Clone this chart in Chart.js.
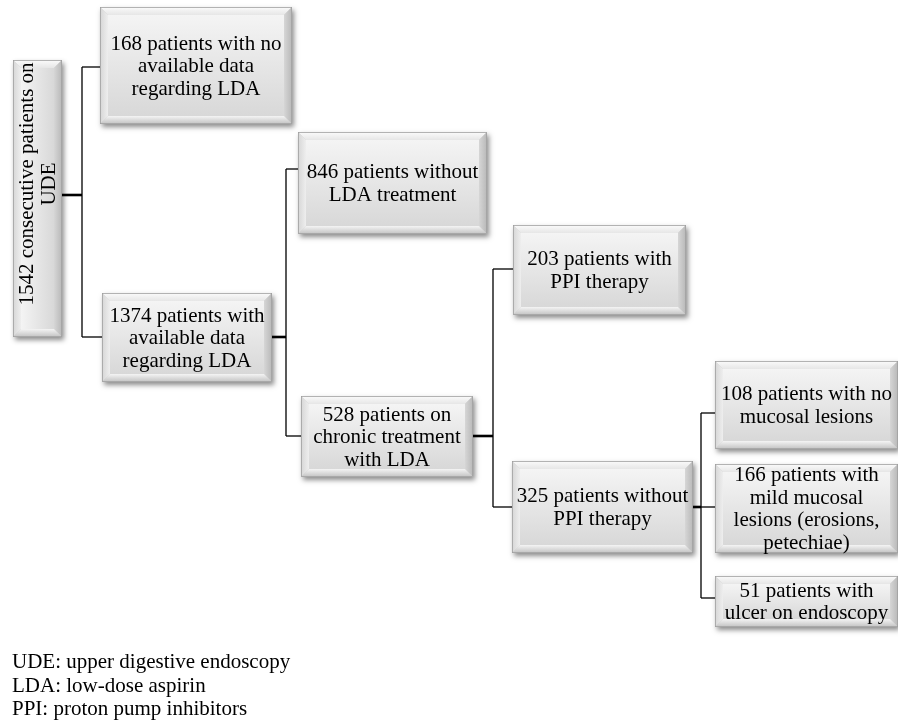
<!DOCTYPE html>
<html>
<head>
<meta charset="utf-8">
<script src="https://cdn.jsdelivr.net/npm/chart.js"></script>
<style>
  html, body { margin: 0; padding: 0; background: #fff; }
  #wrap { position: relative; width: 898px; height: 727px; }
</style>
</head>
<body>
<div id="wrap"><canvas id="flow"></canvas></div>
<script>
  // node texts (one entry per box, split in lines)
  const nodeText = [
    ['1542 consecutive patients on', 'UDE'],
    ['168 patients with no', 'available data', 'regarding LDA'],
    ['1374 patients with', 'available data', 'regarding LDA'],
    ['846 patients without', 'LDA treatment'],
    ['528 patients on', 'chronic treatment', 'with LDA'],
    ['203 patients with', 'PPI therapy'],
    ['325 patients without', 'PPI therapy'],
    ['108 patients with no', 'mucosal lesions'],
    ['166 patients with', 'mild mucosal', 'lesions (erosions,', 'petechiae)'],
    ['51 patients with', 'ulcer on endoscopy']
  ];
  // parent -> children links
  const linkParent = [0, 2, 4, 6];
  const linkChildren = [[1, 2], [3, 4], [5, 6], [7, 8, 9]];
  const footnotes = [
    'UDE: upper digestive endoscopy',
    'LDA: low-dose aspirin',
    'PPI: proton pump inhibitors'
  ];

  // layout in chart units (x 0..898, y 0..727 top-down)
  const nodeRect = [
    [13, 60, 62, 337], [100, 7, 292, 124], [102, 293, 272, 382], [298, 132, 487, 234],
    [301, 396, 473, 477], [513, 225, 686, 315], [512, 461, 693, 553],
    [715, 361, 898, 449], [715, 464, 898, 553], [715, 576, 898, 627]
  ];
  const nodeAnchorY = [195, 67, 337, 169, 436, 269, 507, 413, 507, 598];
  const linkElbowX = [82, 286, 493, 701];
  const rotatedNode = 0;

  const FONT = '"Liberation Serif", "Times New Roman", serif';

  function seg(x0, y0, x1, y1, w) {
    return { data: [{ x: x0, y: y0 }, { x: x1, y: y1 }], showLine: true, borderColor: '#000', borderWidth: w, pointRadius: 0, fill: false };
  }

  const datasets = [];
  linkParent.forEach((p, i) => {
    const ex = linkElbowX[i];
    const kids = linkChildren[i];
    const ys = kids.map(k => nodeAnchorY[k]);
    datasets.push(seg(nodeRect[p][2], nodeAnchorY[p], ex, nodeAnchorY[p], 2.6));
    datasets.push(seg(ex, Math.min(...ys), ex, Math.max(...ys), 1.3));
    kids.forEach(k => datasets.push(seg(ex, nodeAnchorY[k], nodeRect[k][0], nodeAnchorY[k], 1.3)));
  });

  function poly(ctx, pts, fill) {
    ctx.beginPath();
    ctx.moveTo(pts[0][0], pts[0][1]);
    for (let i = 1; i < pts.length; i++) ctx.lineTo(pts[i][0], pts[i][1]);
    ctx.closePath();
    ctx.fillStyle = fill;
    ctx.fill();
  }

  function drawBevelBox(ctx, x0, y0, x1, y1, rot) {
    const b = 8;
    ctx.save();
    ctx.shadowColor = 'rgba(0,0,0,0.45)';
    ctx.shadowBlur = 5;
    ctx.shadowOffsetX = 2;
    ctx.shadowOffsetY = 3;
    ctx.fillStyle = '#cccccc';
    ctx.fillRect(x0, y0, x1 - x0, y1 - y0);
    ctx.restore();

    let g = ctx.createLinearGradient(0, y0, 0, y0 + b);
    g.addColorStop(0, '#fbfbfb'); g.addColorStop(1, '#e6e6e6');
    poly(ctx, [[x0, y0], [x1, y0], [x1 - b, y0 + b], [x0 + b, y0 + b]], g);
    g = ctx.createLinearGradient(x0, 0, x0 + b, 0);
    g.addColorStop(0, '#d6d6d6'); g.addColorStop(1, '#eeeeee');
    poly(ctx, [[x0, y0], [x0 + b, y0 + b], [x0 + b, y1 - b], [x0, y1]], g);
    g = ctx.createLinearGradient(x1, 0, x1 - b, 0);
    g.addColorStop(0, '#b8b8b8'); g.addColorStop(1, '#d6d6d6');
    poly(ctx, [[x1, y0], [x1, y1], [x1 - b, y1 - b], [x1 - b, y0 + b]], g);
    g = ctx.createLinearGradient(0, y1, 0, y1 - b);
    g.addColorStop(0, '#c2c2c2'); g.addColorStop(1, '#f4f4f4');
    poly(ctx, [[x0, y1], [x1, y1], [x1 - b, y1 - b], [x0 + b, y1 - b]], g);

    g = rot ? ctx.createLinearGradient(x0 + b, 0, x1 - b, 0) : ctx.createLinearGradient(0, y0 + b, 0, y1 - b);
    g.addColorStop(0, '#f4f4f4'); g.addColorStop(1, '#d8d8d8');
    ctx.fillStyle = g;
    ctx.fillRect(x0 + b, y0 + b, x1 - x0 - 2 * b, y1 - y0 - 2 * b);

    ctx.strokeStyle = '#a0a0a0';
    ctx.lineWidth = 0.8;
    ctx.strokeRect(x0 + 0.4, y0 + 0.4, x1 - x0 - 0.8, y1 - y0 - 0.8);
  }

  const boxPlugin = {
    id: 'boxes',
    afterDatasetsDraw(chart) {
      const ctx = chart.ctx;
      const sx = chart.scales.x, sy = chart.scales.y;
      const lh = 22.5;
      nodeRect.forEach((r, i) => {
        const x0 = sx.getPixelForValue(r[0]), x1 = sx.getPixelForValue(r[2]);
        const y0 = sy.getPixelForValue(r[1]), y1 = sy.getPixelForValue(r[3]);
        const rot = i === rotatedNode;
        drawBevelBox(ctx, x0, y0, x1, y1, rot);
        const lines = nodeText[i];
        ctx.save();
        ctx.fillStyle = '#000';
        ctx.font = '21px ' + FONT;
        ctx.textAlign = 'center';
        ctx.textBaseline = 'middle';
        if (rot) {
          ctx.translate((x0 + x1) / 2 + 1, sy.getPixelForValue(184));
          ctx.rotate(-Math.PI / 2);
        } else {
          ctx.translate((x0 + x1) / 2, (y0 + y1) / 2 + 1);
        }
        lines.forEach((t, k) => ctx.fillText(t, 0, (k - (lines.length - 1) / 2) * lh));
        ctx.restore();
      });
      ctx.save();
      ctx.fillStyle = '#000';
      ctx.font = '21px ' + FONT;
      ctx.textAlign = 'left';
      ctx.textBaseline = 'alphabetic';
      footnotes.forEach((t, k) => ctx.fillText(t, sx.getPixelForValue(12), sy.getPixelForValue(668 + k * 23.5)));
      ctx.restore();
    }
  };

  new Chart(document.getElementById('flow'), {
    type: 'scatter',
    data: { datasets },
    options: {
      responsive: true, maintainAspectRatio: false, animation: false, events: [],
      layout: { padding: 0 },
      scales: {
        x: { type: 'linear', min: 0, max: 898, display: false },
        y: { type: 'linear', min: 0, max: 727, reverse: true, display: false }
      },
      plugins: { legend: { display: false }, tooltip: { enabled: false } }
    },
    plugins: [boxPlugin]
  });
</script>
</body>
</html>
